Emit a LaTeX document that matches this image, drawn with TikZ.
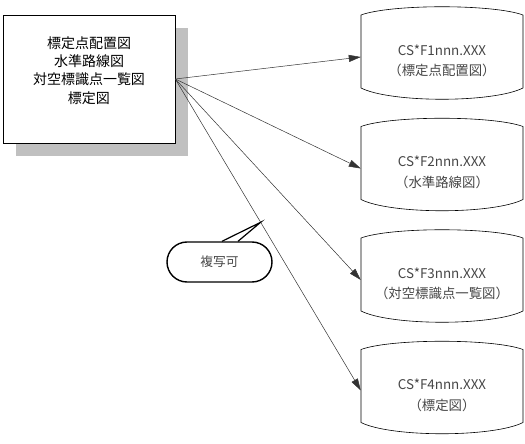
\documentclass[tikz,border=0pt]{standalone}
\usepackage{fontspec}
\setmainfont{Noto Sans CJK JP}
\usepackage{xcolor}
\usepackage{tikz}
\usetikzlibrary{arrows.meta,calc}
\definecolor{shade}{RGB}{192,192,192}
\definecolor{ink}{RGB}{70,70,70}
\tikzset{
  srcbox/.style={draw=black, line width=0.6pt, fill=white, inner sep=0pt,
    minimum width=172pt, minimum height=128pt},
  srcshadow/.style={draw=none, fill=shade, inner sep=0pt,
    minimum width=172pt, minimum height=128pt},
  srctext/.style={align=center, inner sep=0pt, font=\fontsize{14}{18.3}\selectfont},
  filebox/.style={align=center, inner sep=0pt, text=ink, minimum width=162pt,
    font=\fontsize{13.4}{20.5}\selectfont},
  barrel/.style={draw=black, line width=0.6pt},
  copyto/.style={draw=black!80, line width=0.5pt, -{Triangle[length=12pt,width=7pt]}},
  note/.style={draw=black, line width=1.4pt, rounded corners=20pt, fill=white,
    minimum width=105pt, minimum height=40pt, text=ink, font=\fontsize{12.7}{15}\selectfont},
  pointer/.style={draw=black, line width=1.2pt}
}

\begin{document}
\begin{tikzpicture}[x=1pt,y=-1pt]
    \useasboundingbox (0,0) rectangle (525,444);
    % source sheet with shadow
    \node[srcshadow] (shadow) at (102,92) {};
    \node[srcbox] (src) at (89,79) {};
    \node[srctext] (srclist) at (89,70.5) {標定点配置図\\水準路線図\\対空標識点一覧図\\標定図};

    % output files
    \node[filebox] (f1) at (442,61) {CS*F1nnn.XXX\\（標定点配置図）};
    \node[filebox] (f2) at (442,172.5) {CS*F2nnn.XXX\\（水準路線図）};
    \node[filebox] (f3) at (442,284) {CS*F3nnn.XXX\\（対空標識点一覧図）};
    \node[filebox] (f4) at (442,395.5) {CS*F4nnn.XXX\\（標定図）};

    \foreach \i in {1,...,4}
      \draw[barrel] ($(f\i.center)+(-81,-46)$)
        .. controls ($(f\i.center)+(-51,-57)$) and ($(f\i.center)+(51,-57)$) .. ($(f\i.center)+(81,-46)$)
        -- ($(f\i.center)+(81,27)$)
        .. controls ($(f\i.center)+(51,42)$) and ($(f\i.center)+(-51,42)$) .. ($(f\i.center)+(-81,27)$)
        -- cycle;

    \foreach \i in {1,2,3}
      \draw[copyto] (src.east) -- ($(f\i.west)+(0,-4)$);
    \draw[copyto] (src.east) -- coordinate[pos=0.46] (tip) ($(f4.west)+(0,-5)$);

    % callout
    \node[note] (copynote) at (219.5,262) {複写可};
    \draw[pointer] ([xshift=2.5pt]copynote.north) -- (tip) -- ([xshift=18.5pt]copynote.north);
\end{tikzpicture}
\end{document}
